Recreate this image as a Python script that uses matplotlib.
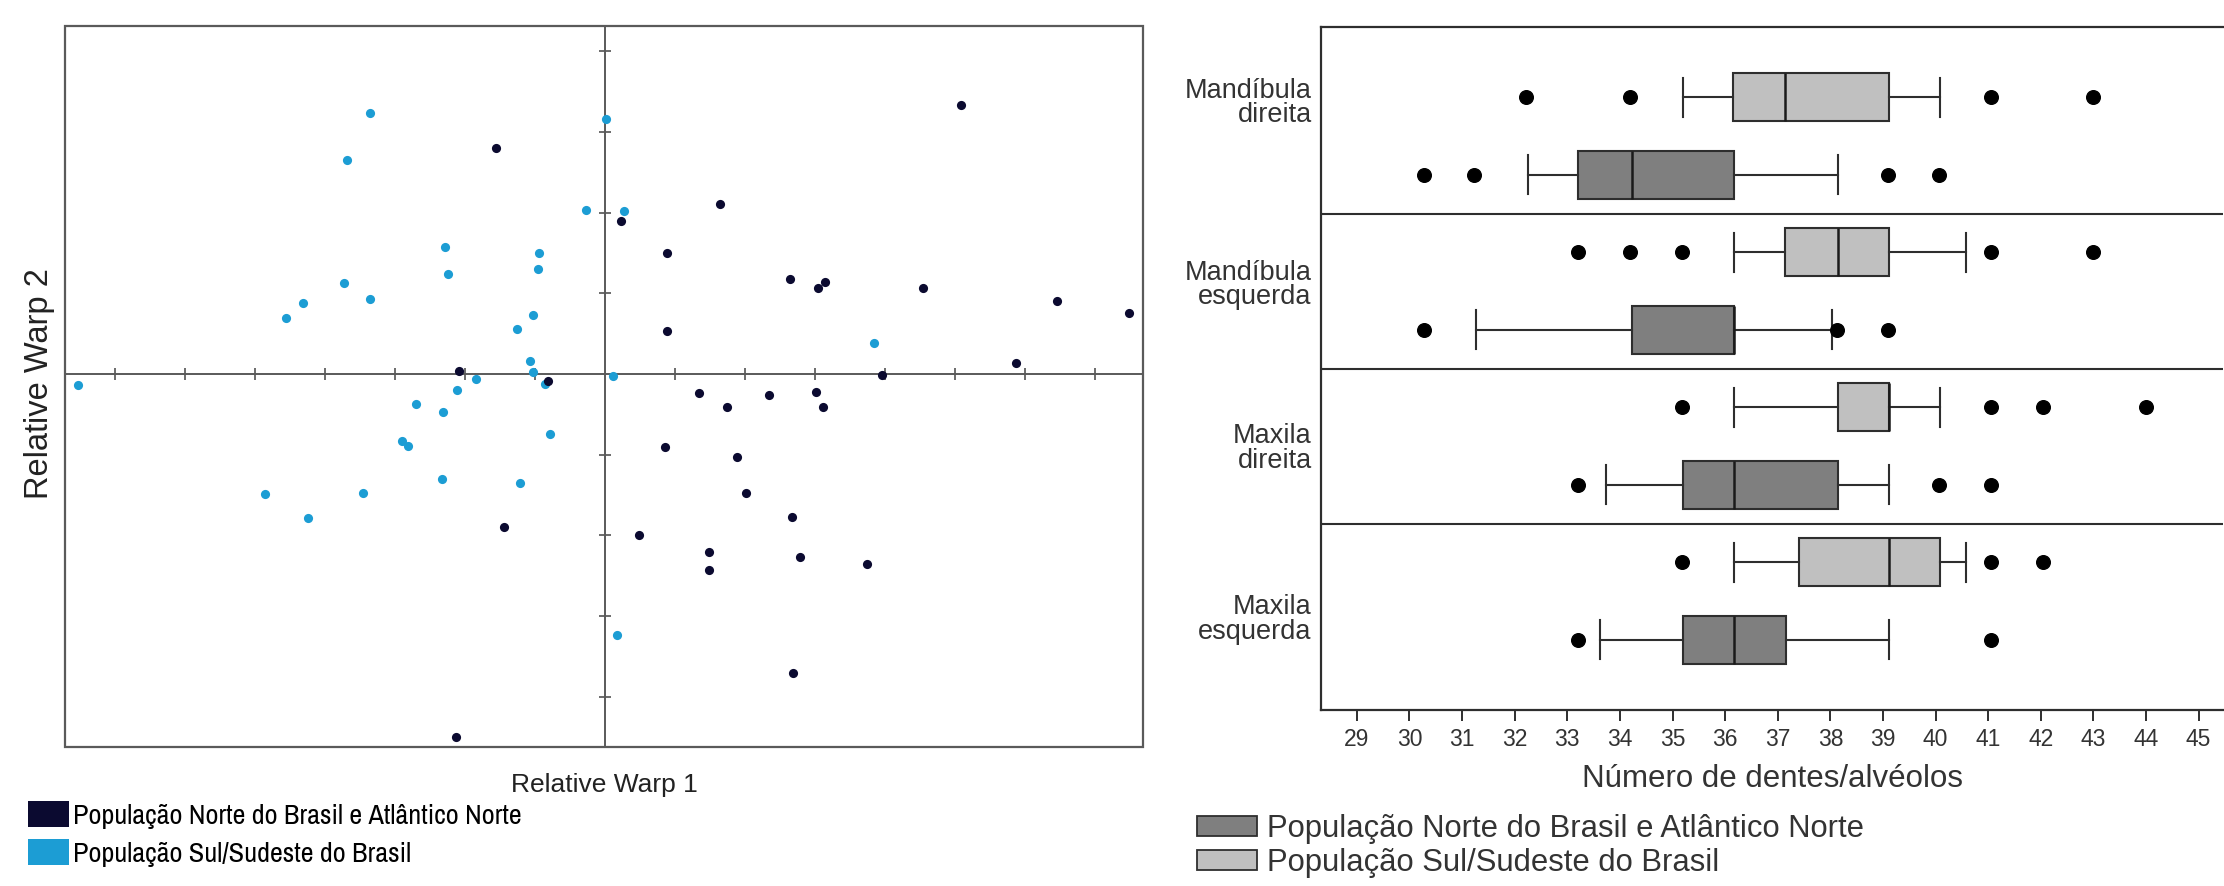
import matplotlib
matplotlib.use("Agg")
import matplotlib.pyplot as plt
from matplotlib import font_manager as fm
from matplotlib.patches import Patch, Rectangle
import matplotlib.transforms as mtransforms

# ---------------- data: relative warp scores (scatter) ----------------
norte_rw1 = [-0.0156, 0.0023, -0.0209, -0.0081, -0.0144, -0.0213, 0.0509, 0.0165,
             0.0089, 0.0264, 0.0305, 0.0314, 0.0455, 0.0646, 0.0749, 0.0088,
             0.0587, 0.0396, 0.0134, 0.0235, 0.0302, 0.0175, 0.0311, 0.0086,
             0.0189, 0.0202, 0.0267, 0.0048, 0.0149, 0.0278, 0.0375, 0.0149, 0.0268]
norte_rw2 = [0.0280, 0.0190, 0.0004, -0.0009, -0.0190, -0.0450, 0.0333, 0.0211,
             0.0150, 0.0118, 0.0107, 0.0114, 0.0106, 0.0090, 0.0075, 0.0053,
             0.0013, -0.0001, -0.0023, -0.0026, -0.0022, -0.0041, -0.0041, -0.0091,
             -0.0103, -0.0147, -0.0177, -0.0200, -0.0220, -0.0227, -0.0235, -0.0243, -0.0371]
sul_rw1 = [-0.0753, -0.0336, -0.0368, 0.0002, -0.0027, 0.0027, -0.0229, -0.0094,
           -0.0224, -0.0095, -0.0373, -0.0432, -0.0456, -0.0335, -0.0103, -0.0125,
           -0.0107, -0.0103, -0.0184, -0.0211, 0.0012, -0.0086, -0.0270, -0.0232,
           -0.0290, -0.0282, -0.0079, -0.0233, -0.0121, -0.0485, -0.0346, -0.0424,
           0.0017, 0.0384]
sul_rw2 = [-0.0014, 0.0323, 0.0265, 0.0316, 0.0203, 0.0202, 0.0157, 0.0150,
           0.0124, 0.0130, 0.0113, 0.0088, 0.0069, 0.0093, 0.0073, 0.0056,
           0.0016, 0.0002, -0.0006, -0.0020, -0.0002, -0.0012, -0.0037, -0.0047,
           -0.0083, -0.0089, -0.0074, -0.0130, -0.0135, -0.0149, -0.0147, -0.0178,
           -0.0324, 0.0038]

# ---------------- data: tooth counts (box plot) ----------------
group_labels = ["Mandíbula\ndireita", "Mandíbula\nesquerda", "Maxila\ndireita", "Maxila\nesquerda"]
series_labels = ["População Norte do Brasil e Atlântico Norte", "População Sul/Sudeste do Brasil"]

sul_whislo = [35.20, 36.17, 36.17, 36.17]
sul_q1 = [36.15, 37.13, 38.14, 37.40]
sul_med = [37.13, 38.14, 39.11, 39.11]
sul_q3 = [39.11, 39.11, 39.11, 40.08]
sul_whishi = [40.08, 40.57, 40.08, 40.57]
sul_fliers = [[32.21, 34.20, 41.05, 43.00],
              [33.21, 34.20, 35.18, 41.05, 43.00],
              [35.18, 41.05, 42.05, 43.99],
              [35.18, 41.05, 42.05]]

norte_whislo = [32.25, 31.27, 33.74, 33.62]
norte_q1 = [33.21, 34.23, 35.19, 35.19]
norte_med = [34.23, 36.17, 36.17, 36.17]
norte_q3 = [36.17, 36.17, 38.15, 37.15]
norte_whishi = [38.14, 38.03, 39.11, 39.11]
norte_fliers = [[30.27, 31.23, 39.09, 40.07],
                [30.27, 38.12, 39.09],
                [33.21, 40.07, 41.05],
                [33.21, 41.05]]

count_ticks = list(range(29, 46))
warp_ticks_x = [k / 100 for k in range(-7, 8) if k != 0]
warp_ticks_y = [k / 100 for k in range(-4, 5) if k != 0]

# ---------------- style ----------------
plt.rcParams["font.family"] = ["Liberation Sans", "DejaVu Sans"]


def find_condensed():
    """Return the file of a condensed/narrow regular sans face, if installed."""
    ranked = []
    for f in fm.fontManager.ttflist:
        nm = f.name
        if any(k in nm for k in ("Mono", "CJK", "Serif", "Math")):
            continue
        st = str(f.stretch).lower()
        w = f.weight
        regular = (w in (400, "normal", "regular", "book")) and f.style == "normal"
        if not regular:
            continue
        score = None
        if "narrow" in nm.lower():
            score = 0
        elif st == "condensed" or ("Condensed" in nm and "Semi" not in nm and "Extra" not in nm
                                   and "Ultra" not in nm):
            score = 1
        elif "semi" in st and "condensed" in st:
            score = 3
        if score is not None and "DejaVu" not in nm:
            ranked.append((score, nm, f.fname))
    ranked.sort()
    return ranked[0][2] if ranked else None


COND = find_condensed()

DARK_PT = "#0b0a30"
CYAN_PT = "#1c9dd4"
DARK_BOX = "#7f7f7f"
LIGHT_BOX = "#c0c0c0"
EDGE = "#2e2e2e"
TXT = "#333333"

W, H = 2224, 886
fig = plt.figure(figsize=(W / 100, H / 100), dpi=100)
fig.patch.set_facecolor("white")


def fax(l, t, r, b):
    return [l / W, 1 - b / H, (r - l) / W, (b - t) / H]


def left_font(size_cond, size_reg):
    if COND:
        return fm.FontProperties(fname=COND, size=size_cond)
    return fm.FontProperties(family=["Liberation Sans", "DejaVu Sans"], size=size_reg)


# =============== left panel: scatter ===============
ax1 = fig.add_axes(fax(65, 26, 1143, 747))
for s in ["top", "right"]:
    ax1.spines[s].set_visible(False)
ax1.spines["left"].set_position(("data", 0))
ax1.spines["bottom"].set_position(("data", 0))
for s in ["left", "bottom"]:
    ax1.spines[s].set_color("#5a5a5a")
    ax1.spines[s].set_linewidth(1.4)
ax1.add_patch(Rectangle((0, 0), 1, 1, transform=ax1.transAxes, fill=False,
                        ec="#5a5a5a", lw=1.6, clip_on=False, zorder=5))
ax1.set_xticks(warp_ticks_x)
ax1.set_yticks(warp_ticks_y)
ax1.tick_params(direction="inout", length=9, width=1.1, color="#444444",
                labelleft=False, labelbottom=False)

ax1.plot(sul_rw1, sul_rw2, "o", color=CYAN_PT, ms=6.6, mec="none", zorder=3)
ax1.plot(norte_rw1, norte_rw2, "o", color=DARK_PT, ms=6.6, mec="none", zorder=4)
ax1.set_xlim(-0.07714, 0.07686)
ax1.set_ylim(-0.04622, 0.04312)

ax1.set_xlabel("Relative Warp 1", color="#222222", fontsize=19)
ax1.xaxis.label.set_va("baseline")
ax1.xaxis.set_label_coords(0.5, -(791.7 - 747) / 721)
ax1.set_ylabel("Relative Warp 2", fontsize=23.5, color="#222222")
ax1.yaxis.label.set_va("center")
ax1.yaxis.set_label_coords(-(65 - 40) / 1078, (747 - 383.3) / 721)

leg1_prop = left_font(20.3, 17)
fs_px = leg1_prop.get_size_in_points() * 100 / 72
fig.legend(handles=[Patch(fc=DARK_PT, ec="none"), Patch(fc=CYAN_PT, ec="none")],
           labels=series_labels, loc="upper left",
           bbox_to_anchor=(28.3 / W, 1 - 801 / H), frameon=False, prop=leg1_prop,
           handlelength=41 / fs_px, handleheight=30 / fs_px,
           handletextpad=4 / fs_px, labelspacing=0.36, borderpad=0, borderaxespad=0)

# =============== right panel: box plots ===============
ax2 = fig.add_axes(fax(1321.4, 26.7, 2223, 710))
stats, positions, faces = [], [], []
for g in range(len(group_labels)):
    stats.append(dict(whislo=sul_whislo[g], q1=sul_q1[g], med=sul_med[g], q3=sul_q3[g],
                      whishi=sul_whishi[g], fliers=sul_fliers[g]))
    positions.append(2 * g)
    faces.append(LIGHT_BOX)
    stats.append(dict(whislo=norte_whislo[g], q1=norte_q1[g], med=norte_med[g], q3=norte_q3[g],
                      whishi=norte_whishi[g], fliers=norte_fliers[g]))
    positions.append(2 * g + 1)
    faces.append(DARK_BOX)

bp = ax2.bxp(stats, positions=positions, widths=0.62, capwidths=0.5,
             orientation="horizontal", patch_artist=True, showfliers=True,
             boxprops=dict(edgecolor=EDGE, linewidth=1.5),
             whiskerprops=dict(color=EDGE, linewidth=1.5),
             capprops=dict(color=EDGE, linewidth=1.5),
             medianprops=dict(color="#1a1a1a", linewidth=1.8),
             flierprops=dict(marker="o", markerfacecolor="black", markeredgecolor="black",
                             markersize=9.8, linestyle="none"))
for patch, fc in zip(bp["boxes"], faces):
    patch.set_facecolor(fc)

for y in [1.5, 3.5, 5.5]:
    ax2.axhline(y, color=EDGE, lw=1.5, zorder=1)
ax2.set_xlim(28.326, 45.463)
ax2.set_ylim(7.906, -0.911)
ax2.set_yticks([])
ax2.spines["right"].set_visible(False)
for s in ["top", "left", "bottom"]:
    ax2.spines[s].set_color(EDGE)
    ax2.spines[s].set_linewidth(1.6)
ax2.set_xticks(count_ticks)
ax2.set_xticklabels([str(t) for t in count_ticks])
ax2.tick_params(axis="x", length=7.7, width=1.4, pad=5, labelsize=16.5,
                color=EDGE, labelcolor=TXT)

label_rows = [0.07, 2.42, 4.53, 6.74]
trans = mtransforms.blended_transform_factory(ax2.transAxes, ax2.transData)
for lab, r in zip(group_labels, label_rows):
    ax2.text(-0.0107, r, lab, transform=trans, ha="right", va="center",
             fontsize=19.5, color=TXT, linespacing=0.92, multialignment="right")

ax2.set_xlabel("Número de dentes/alvéolos", fontsize=22.5, color=TXT)
ax2.xaxis.label.set_va("baseline")
ax2.xaxis.set_label_coords(0.5, -(786.7 - 710) / 683.3)

fs2 = 22.3
fs2_px = fs2 * 100 / 72
fig.legend(handles=[Patch(fc=DARK_BOX, ec=EDGE, lw=1.3), Patch(fc=LIGHT_BOX, ec=EDGE, lw=1.3)],
           labels=series_labels, loc="upper left",
           bbox_to_anchor=(1196.8 / W, 1 - 814 / H), frameon=False, fontsize=fs2,
           labelcolor=TXT, handlelength=60 / fs2_px, handleheight=20 / fs2_px,
           handletextpad=10.6 / fs2_px, labelspacing=0.13, borderpad=0, borderaxespad=0)

fig.savefig("out.png", dpi=100, facecolor="white")
